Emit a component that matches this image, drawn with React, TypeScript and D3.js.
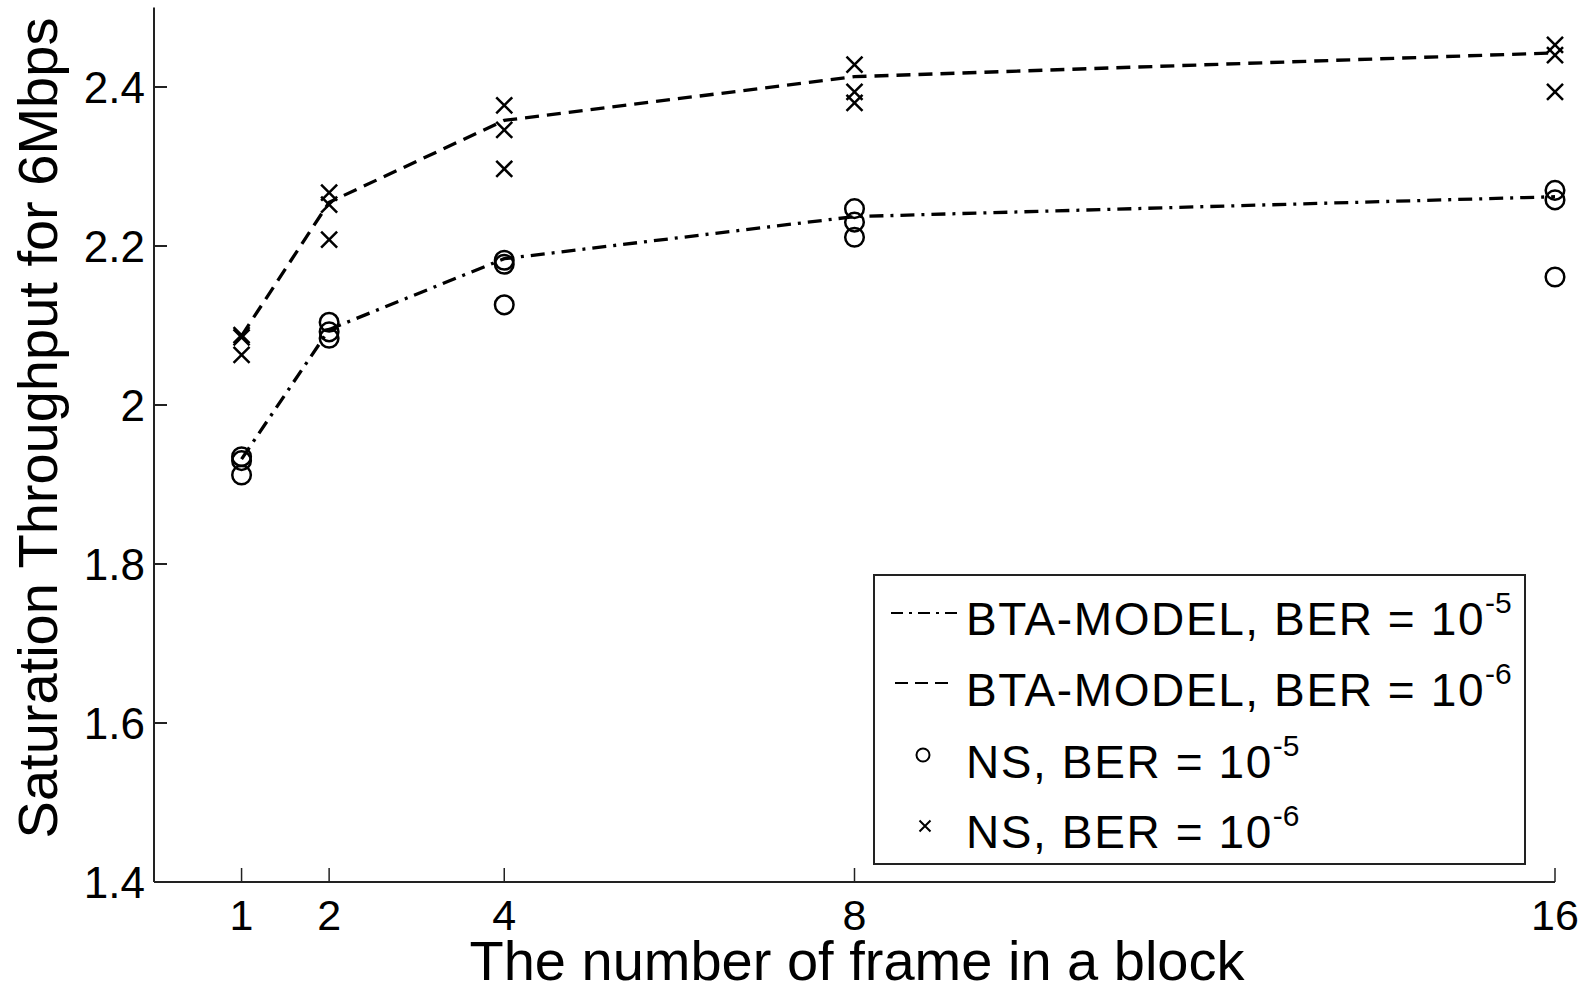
import React from "react";
import * as d3 from "d3";

const frames = [1, 2, 4, 8, 16];
const modelBer5 = [1.932, 2.095, 2.184, 2.237, 2.262];
const modelBer6 = [2.087, 2.255, 2.358, 2.413, 2.443];
const nsBer5 = [
  [1.935, 1.93, 1.912],
  [2.104, 2.092, 2.084],
  [2.182, 2.177, 2.126],
  [2.247, 2.23, 2.211],
  [2.27, 2.258, 2.161],
];
const nsBer6 = [
  [2.088, 2.085, 2.063],
  [2.267, 2.252, 2.208],
  [2.377, 2.346, 2.297],
  [2.428, 2.394, 2.38],
  [2.453, 2.44, 2.394],
];
const yTicks = [1.4, 1.6, 1.8, 2, 2.2, 2.4];
const xTicks = [1, 2, 4, 8, 16];
const xTitle = "The number of frame in a block";
const yTitle = "Saturation Throughput for 6Mbps";
const legendLabels = [
  { main: "BTA-MODEL, BER = 10", sup: "-5" },
  { main: "BTA-MODEL, BER = 10", sup: "-6" },
  { main: "NS, BER = 10", sup: "-5" },
  { main: "NS, BER = 10", sup: "-6" },
];

const W = 1588;
const H = 991;
const left = 154;
const right = 1555;
const top = 7.5;
const bottom = 882;
const FONT = "'Liberation Sans', Arial, Helvetica, sans-serif";
const INK = "#000";
const AX = "#222";
const DASH = "14,8";
const DASHDOT = "14,7,3,7";

export default function App() {
  const x = d3.scaleLinear().domain([0, 16]).range([left, right]);
  const y = d3.scaleLinear().domain([1.4, 2.5]).range([bottom, top]);
  const line = d3
    .line<number>()
    .x((_, i) => x(frames[i]))
    .y((d) => y(d));

  const cross = (cx: number, cy: number, s: number, key: string, sw = 2.5) => (
    <path
      key={key}
      d={`M${cx - s},${cy - s}L${cx + s},${cy + s}M${cx - s},${cy + s}L${cx + s},${cy - s}`}
      stroke={INK}
      strokeWidth={sw}
      fill="none"
    />
  );

  const legendX = 874;
  const legendY = 575;
  const legendW = 651;
  const legendH = 289;
  const rowBase = [635, 706, 778, 848];
  const textX = 966;

  return (
    <svg
      width={W}
      height={H}
      viewBox={`0 0 ${W} ${H}`}
      style={{ position: "absolute", left: 0, top: 0, background: "#fff" }}
    >
      <rect x={0} y={0} width={W} height={H} fill="#fff" />
      {/* axes */}
      <line x1={left} y1={top} x2={left} y2={bottom} stroke={AX} strokeWidth={2} />
      <line x1={left} y1={bottom} x2={right} y2={bottom} stroke={AX} strokeWidth={2} />
      {yTicks.map((t) => (
        <g key={`yt${t}`}>
          <line x1={left} x2={left + 13} y1={y(t)} y2={y(t)} stroke={AX} strokeWidth={2} />
          <text
            x={left - 9}
            y={y(t)}
            dy="0.36em"
            textAnchor="end"
            fontFamily={FONT}
            fontSize={44}
            fill={INK}
          >
            {d3.format("")(t)}
          </text>
        </g>
      ))}
      {xTicks.map((t) => (
        <g key={`xt${t}`}>
          <line x1={x(t)} x2={x(t)} y1={bottom} y2={bottom - 14} stroke={AX} strokeWidth={1.5} />
          <text
            x={x(t)}
            y={930}
            textAnchor="middle"
            fontFamily={FONT}
            fontSize={43}
            fill={INK}
          >
            {t}
          </text>
        </g>
      ))}
      <text
        x={857}
        y={980}
        textAnchor="middle"
        fontFamily={FONT}
        fontSize={56}
        fill={INK}
      >
        {xTitle}
      </text>
      <text
        transform={`translate(57,428) rotate(-90)`}
        textAnchor="middle"
        fontFamily={FONT}
        fontSize={56}
        fill={INK}
      >
        {yTitle}
      </text>

      {/* model lines */}
      <path d={line(modelBer5) || ""} fill="none" stroke={INK} strokeWidth={3.3} strokeDasharray={DASHDOT} />
      <path d={line(modelBer6) || ""} fill="none" stroke={INK} strokeWidth={3.3} strokeDasharray={DASH} />

      {/* NS markers */}
      {nsBer5.map((vals, i) =>
        vals.map((v, j) => (
          <circle
            key={`c${i}-${j}`}
            cx={x(frames[i])}
            cy={y(v)}
            r={9.3}
            fill="none"
            stroke={INK}
            strokeWidth={2.5}
          />
        ))
      )}
      {nsBer6.map((vals, i) => vals.map((v, j) => cross(x(frames[i]), y(v), 8, `x${i}-${j}`)))}

      {/* legend */}
      <rect x={legendX} y={legendY} width={legendW} height={legendH} fill="#fff" stroke={AX} strokeWidth={2} />
      <line x1={891} x2={958} y1={613} y2={613} stroke={INK} strokeWidth={2} strokeDasharray="12,6,3,6" />
      <line x1={895} x2={955} y1={683} y2={683} stroke={INK} strokeWidth={2} strokeDasharray="13,7" />
      <circle cx={923} cy={755} r={6.5} fill="none" stroke={INK} strokeWidth={2} />
      {cross(925, 826, 5.5, "legx", 2)}
      {legendLabels.map((l, i) => (
        <text
          key={`lg${i}`}
          x={textX}
          y={rowBase[i]}
          fontFamily={FONT}
          fontSize={46}
          letterSpacing={1.6}
          fill={INK}
        >
          {l.main}
          <tspan dy={-22} fontSize={30} letterSpacing={0}>
            {l.sup}
          </tspan>
        </text>
      ))}
    </svg>
  );
}
